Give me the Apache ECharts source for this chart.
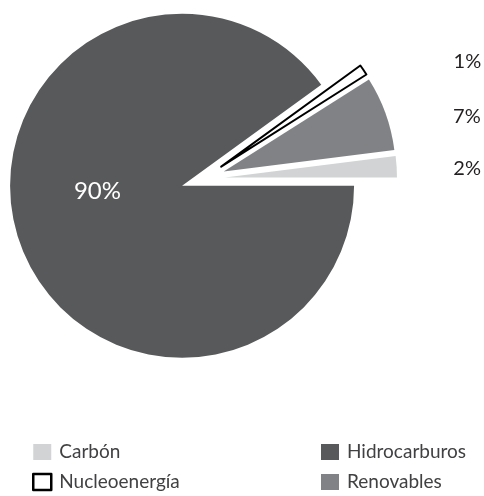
<!DOCTYPE html>
<html>
<head>
<meta charset="utf-8">
<script src="https://cdn.jsdelivr.net/npm/echarts@6/dist/echarts.min.js"></script>
<style>
  html, body { margin: 0; padding: 0; background: #ffffff; }
  #chart { width: 484px; height: 496px; }
</style>
</head>
<body>
<div id="chart"></div>
<script>
// Data
const categories = ['Hidrocarburos', 'Nucleoenergía', 'Renovables', 'Carbón'];
const shares = [90, 1, 7, 2];
const legendLeftColumn = ['Carbón', 'Nucleoenergía'];
const legendRightColumn = ['Hidrocarburos', 'Renovables'];

// Styles
const sliceStyles = {
  'Hidrocarburos': { color: '#58595b', borderWidth: 0 },
  'Nucleoenergía': { color: '#ffffff', borderColor: '#000000', borderWidth: 2 },
  'Renovables': { color: '#808285', borderWidth: 0 },
  'Carbón': { color: '#d1d3d4', borderWidth: 0 }
};
// label placement tweaks (style only)
const labelTweaks = {
  'Hidrocarburos': { lineHeight: 44, before: '', after: '\n' },
  'Nucleoenergía': { lineHeight: 20, before: '', after: '', edge: 21 },
  'Renovables': { lineHeight: 16.6, before: '\n', after: '', edge: 24 },
  'Carbón': { lineHeight: 6.2, before: '\n', after: '', edge: 25 }
};
const fontName = 'Lato, Roboto, sans-serif';

const chart = echarts.init(document.getElementById('chart'), null, { renderer: 'canvas' });

const pieData = categories.map((name, i) => {
  const t = labelTweaks[name];
  return {
    name: name,
    value: shares[i],
    selected: true,
    itemStyle: sliceStyles[name],
    select: { itemStyle: sliceStyles[name] },
    label: i === 0
      ? { position: 'inside', color: '#ffffff', fontSize: 24, lineHeight: t.lineHeight }
      : { position: 'outside', alignTo: 'edge', edgeDistance: t.edge, color: '#231f20', fontSize: 20, lineHeight: t.lineHeight }
  };
});

function legendItems(names) {
  return names.map(n => {
    const s = sliceStyles[n];
    return {
      name: n,
      itemStyle: s.borderWidth
        ? { color: s.color, borderColor: s.borderColor, borderWidth: 2.5 }
        : { color: s.color, borderWidth: 0 }
    };
  });
}

const legendCommon = {
  orient: 'vertical',
  top: 442,
  padding: 0,
  itemWidth: 18,
  itemHeight: 16,
  itemGap: 10,
  icon: 'rect',
  selectedMode: false,
  textStyle: { fontFamily: fontName, fontSize: 19, color: '#414042', lineHeight: 20, padding: [0, 0, 0, 3] }
};

chart.setOption({
  animation: false,
  legend: [
    Object.assign({}, legendCommon, { left: 32, data: legendItems(legendLeftColumn) }),
    Object.assign({}, legendCommon, { left: 321, data: legendItems(legendRightColumn) })
  ],
  series: [{
    type: 'pie',
    center: [203, 179],
    radius: 172,
    startAngle: 0,
    clockwise: true,
    selectedMode: 'multiple',
    selectedOffset: 22,
    avoidLabelOverlap: false,
    emphasis: { disabled: true },
    label: {
      show: true,
      fontFamily: fontName,
      formatter: p => labelTweaks[p.name].before + p.value + '%' + labelTweaks[p.name].after
    },
    labelLine: { show: false, length: 15, length2: 15 },
    data: pieData
  }]
});
</script>
</body>
</html>
